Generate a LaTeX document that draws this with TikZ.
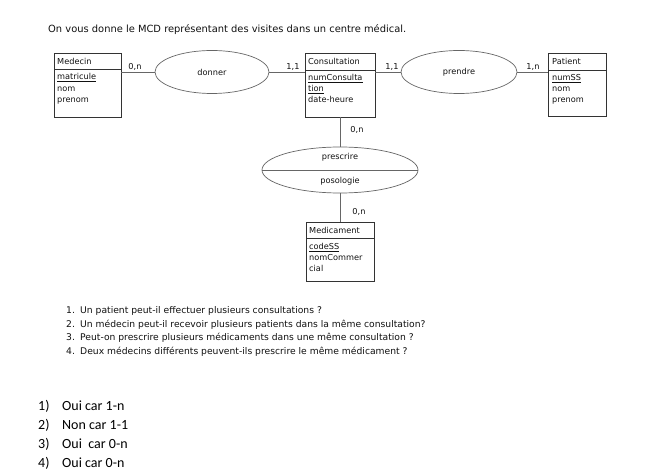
\documentclass[tikz,border=0pt]{standalone}
\usepackage{fontspec}
\setmainfont{DejaVu Sans}
\newfontfamily\calib{Carlito}
\usetikzlibrary{shapes.geometric}
\definecolor{boxc}{HTML}{333333}
\definecolor{linec}{HTML}{666666}
\definecolor{txtc}{HTML}{111111}
\begin{document}
\begin{tikzpicture}[x=1pt,y=-1pt,
  ent/.style={draw=boxc, line width=0.7pt, anchor=north west, inner sep=0pt, outer sep=0pt},
  sepline/.style={draw=boxc, line width=0.6pt},
  rel/.style={draw=linec, ellipse, line width=0.7pt, inner sep=0pt, outer sep=0pt},
  lnk/.style={draw=linec, line width=0.7pt},
  dtext/.style={font=\fontsize{8.2}{10}\selectfont, text=txtc, inner sep=0pt},
  atext/.style={dtext, anchor=base west},
  card/.style={dtext},
  qtext/.style={font=\fontsize{9.2}{11}\selectfont, text=txtc, inner sep=0pt, anchor=base west},
  ans/.style={font=\calib\fontsize{14}{16}\selectfont, text=black, inner sep=0pt, anchor=base west}
]
\useasboundingbox[fill=white] (0,0) rectangle (657,476);

% title
\node[font=\fontsize{9.9}{12}\selectfont, text=txtc, inner sep=0pt, anchor=base west] (title) at (48,33)
  {On vous donne le MCD représentant des visites dans un centre médical.};

% Medecin
\node[ent, minimum width=67pt, minimum height=64pt] (med) at (54,53) {};
\draw[sepline] (54,69) -- (121,69);
\node[atext] (medh) at (57,65) {Medecin};
\node[atext] (meda1) at (57,80) {\underline{matricule}};
\node[atext] (meda2) at (57,91.5) {nom};
\node[atext] (meda3) at (57,103) {prenom};

% Consultation
\node[ent, minimum width=70pt, minimum height=64pt] (cons) at (305,53) {};
\draw[sepline] (305,70) -- (375,70);
\node[atext] (consh) at (308,65) {Consultation};
\node[atext] (consa1) at (308,81) {\underline{numConsulta}};
\node[atext] (consa2) at (308,92) {\underline{tion}};
\node[atext] (consa3) at (308,103) {date-heure};

% Patient
\node[ent, minimum width=58pt, minimum height=63pt] (pat) at (548,53) {};
\draw[sepline] (548,70) -- (606,70);
\node[atext] (path) at (552,65) {Patient};
\node[atext] (pata1) at (552,81) {\underline{numSS}};
\node[atext] (pata2) at (552,92) {nom};
\node[atext] (pata3) at (552,103) {prenom};

% Medicament
\node[ent, minimum width=68pt, minimum height=59pt] (medic) at (306,222) {};
\draw[sepline] (306,238) -- (374,238);
\node[atext] (medich) at (309,233.5) {Medicament};
\node[atext] (medica1) at (309,250) {\underline{codeSS}};
\node[atext] (medica2) at (309,261) {nomCommer};
\node[atext] (medica3) at (309,272) {cial};

% relations
\node[rel, minimum width=114pt, minimum height=43pt] (donner) at (212,72) {};
\node[dtext] (donnert) at (212,72) {donner};
\node[rel, minimum width=116pt, minimum height=43pt] (prendre) at (459,72) {};
\node[dtext] (prendret) at (459,72) {prendre};
\node[rel, minimum width=156pt, minimum height=46pt] (presc) at (340,170) {};
\draw[lnk] (presc.west) -- (presc.east);
\node[dtext] (presct) at (340,157.5) {prescrire};
\node[dtext] (posot) at (340,181) {posologie};

% connectors
\draw[lnk] (med.north east |- donner.west) -- (donner.west);
\draw[lnk] (donner.east) -- (cons.north west |- donner.east);
\draw[lnk] (cons.north east |- prendre.west) -- (prendre.west);
\draw[lnk] (prendre.east) -- (pat.north west |- prendre.east);
\draw[lnk] (cons.south -| presc.north) -- (presc.north);
\draw[lnk] (presc.south) -- (presc.south |- medic.north);

% cardinalities
\node[card] (c1) at (135,67) {0,n};
\node[card] (c2) at (293,67) {1,1};
\node[card] (c3) at (392,67) {1,1};
\node[card] (c4) at (533,67) {1,n};
\node[card] (c5) at (357,130) {0,n};
\node[card] (c6) at (359,212) {0,n};

% questions
\node[qtext] (q1n) at (66,314) {1.};
\node[qtext] (q1) at (80,314) {Un patient peut-il effectuer plusieurs consultations ?};
\node[qtext] (q2n) at (66,327.3) {2.};
\node[qtext] (q2) at (80,327.3) {Un médecin peut-il recevoir plusieurs patients dans la même consultation?};
\node[qtext] (q3n) at (66,340.6) {3.};
\node[qtext] (q3) at (80,340.6) {Peut-on prescrire plusieurs médicaments dans une même consultation ?};
\node[qtext] (q4n) at (66,354) {4.};
\node[qtext] (q4) at (80,354) {Deux médecins différents peuvent-ils prescrire le même médicament ?};

% answers
\node[ans] (a1n) at (38,410) {1)};
\node[ans] (a1) at (62,410) {Oui car 1-n};
\node[ans] (a2n) at (38,429) {2)};
\node[ans] (a2) at (62,429) {Non car 1-1};
\node[ans] (a3n) at (38,448) {3)};
\node[ans] (a3) at (62,448) {Oui\ \ car 0-n};
\node[ans] (a4n) at (38,467) {4)};
\node[ans] (a4) at (62,467) {Oui car 0-n};
\end{tikzpicture}
\end{document}
